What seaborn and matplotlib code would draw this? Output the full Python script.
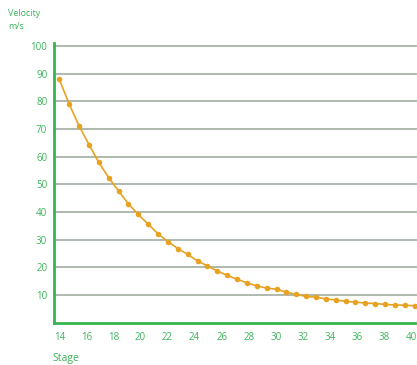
import pandas as pd
import matplotlib
matplotlib.use("Agg")
import matplotlib.pyplot as plt
import seaborn as sns

# Stage positions and velocity readings (m/s)
stage = [14.0, 14.73, 15.46, 16.19, 16.92, 17.65, 18.38, 19.11, 19.84, 20.57,
         21.3, 22.03, 22.76, 23.49, 24.22, 24.95, 25.68, 26.41, 27.14, 27.87,
         28.6, 29.33, 30.06, 30.79, 31.52, 32.25, 32.98, 33.71, 34.44, 35.17,
         35.9, 36.63, 37.36, 38.09, 38.82, 39.55, 40.28]
velocity = [87.9, 79.0, 71.1, 64.4, 57.9, 52.4, 47.6, 42.9, 39.1, 35.6,
            32.1, 29.3, 26.8, 24.7, 22.3, 20.5, 18.7, 17.1, 15.7, 14.4,
            13.3, 12.5, 12.1, 11.0, 10.2, 9.5, 9.2, 8.6, 8.2, 7.7,
            7.4, 7.1, 6.9, 6.6, 6.4, 6.3, 6.1]
x_ticks = list(range(14, 41, 2))
y_ticks = list(range(10, 101, 10))

df = pd.DataFrame({"stage": stage, "velocity": velocity})

sns.set_theme(style="white")
plt.rcParams["font.family"] = ["Open Sans", "DejaVu Sans"]

GREEN = "#35b44f"
TEXT = "#3bb55a"
ORANGE = "#e8a222"

fig = plt.figure(figsize=(4.17, 3.65), dpi=100)
ax = fig.add_axes([0.130, 0.116, 0.870, 0.767])

sns.lineplot(data=df, x="stage", y="velocity", ax=ax, color=ORANGE,
             linewidth=1.2, marker="o", markersize=4, markeredgewidth=0,
             zorder=3)

ax.set_xlim(13.62, 40.45)
ax.set_ylim(0, 101.2)
ax.set_xticks(x_ticks)
ax.set_yticks(y_ticks)
ax.tick_params(axis="both", length=0, labelsize=7, colors=TEXT)
ax.tick_params(axis="x", pad=7)
ax.tick_params(axis="y", pad=5)

# horizontal guide lines at every labelled velocity
for y in y_ticks:
    ax.axhline(y, color="#98a69a", linewidth=1.1, zorder=1)

for side in ["top", "right"]:
    ax.spines[side].set_visible(False)
for side in ["left", "bottom"]:
    ax.spines[side].set_color(GREEN)
    ax.spines[side].set_linewidth(2)

ax.set_xlabel("")
ax.set_ylabel("")
fig.text(8 / 417, 1 - 20 / 365, "Velocity\nm/s", color=TEXT, fontsize=6.5,
         ha="left", va="center", linespacing=1.5)
fig.text(52 / 417, 1 - 358 / 365, "Stage", color=TEXT, fontsize=7.5,
         ha="left", va="center")

fig.savefig("out.png", dpi=100)
